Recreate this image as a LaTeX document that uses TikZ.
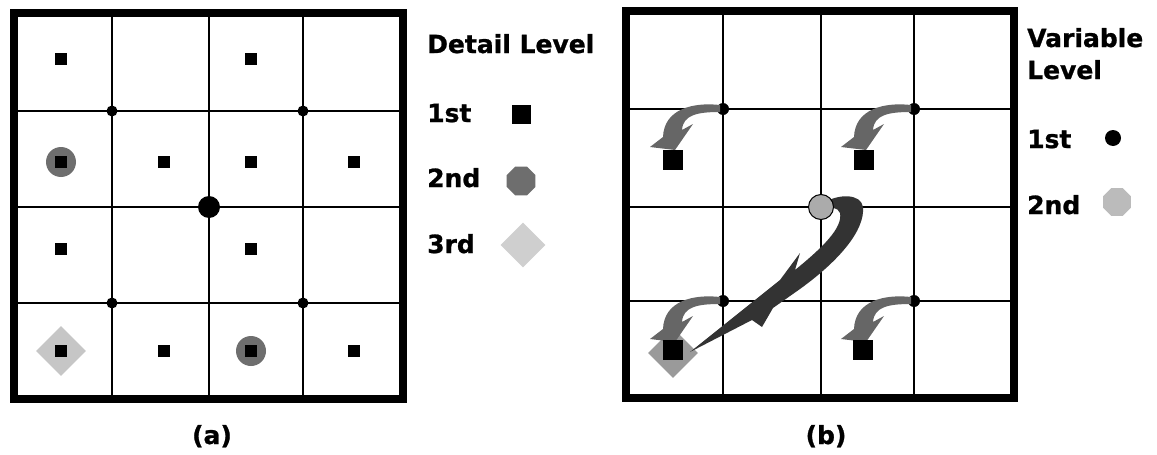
\documentclass[tikz,border=0pt]{standalone}
\usepackage{fontspec}
\setmainfont{DejaVu Sans}[BoldFeatures={FakeBold=1}]
\usetikzlibrary{shapes.geometric}
\definecolor{lvltwo}{HTML}{6E6E6E}
\definecolor{lvlthree}{HTML}{C6C6C6}
\definecolor{diamb}{HTML}{9A9A9A}
\definecolor{vartwo}{HTML}{ABABAB}
\definecolor{vartwoleg}{HTML}{BBBBBB}
\definecolor{arrowgray}{HTML}{666666}
\definecolor{bigarrow}{HTML}{333333}
\tikzset{
  framebox/.style={line width=8pt},
  thinline/.style={line width=1.6pt},
  midline/.style={line width=2.6pt},
  sqmark/.style={rectangle, fill=black, inner sep=0pt, minimum size=#1},
  dotmark/.style={circle, fill=black, inner sep=0pt, minimum size=#1},
  circmark/.style={circle, fill=lvltwo, inner sep=0pt, minimum size=30pt},
  diamark/.style={diamond, inner sep=0pt, minimum size=#1},
  octmark/.style={regular polygon, regular polygon sides=8, inner sep=0pt, minimum size=#1},
  lbl/.style={font=\bfseries\fontsize{25}{30}\selectfont, anchor=base west, inner sep=0pt},
  caplbl/.style={font=\bfseries\fontsize{25}{30}\selectfont, anchor=base, inner sep=0pt},
  smallarrow/.pic={
    \fill[arrowgray] (-3,-4) .. controls (-30,-7) and (-59,0) .. (-60,28)
      -- (-73,38) -- (-48,41) -- (-30,15) -- (-41,21)
      .. controls (-40,6) and (-26,3) .. (-3,3) -- cycle;
  }
}
\begin{document}
\begin{tikzpicture}[x=1pt,y=-1pt]
\useasboundingbox[fill=white] (0,0) rectangle (1157,455);

% ---------- panel (a) ----------
\draw[thinline] (112,13) -- (112,399) (303,13) -- (303,399)
                (14,111) -- (403,111) (14,303) -- (403,303);
\draw[midline] (209,13) -- (209,399) (14,207) -- (403,207);
\draw[framebox] (14,13) rectangle (403,399);

\node[diamark=50pt, fill=lvlthree] (a3) at (61,351) {};
\node[circmark] (a2a) at (61,162) {};
\node[circmark] (a2b) at (251,351) {};

\node[sqmark=12pt] (s11) at (61,59) {};
\node[sqmark=12pt] (s13) at (251,59) {};
\node[sqmark=12pt] (s21) at (61,162) {};
\node[sqmark=12pt] (s22) at (164,162) {};
\node[sqmark=12pt] (s23) at (251,162) {};
\node[sqmark=12pt] (s24) at (354,162) {};
\node[sqmark=12pt] (s31) at (61,249) {};
\node[sqmark=12pt] (s33) at (251,249) {};
\node[sqmark=12pt] (s41) at (61,351) {};
\node[sqmark=12pt] (s42) at (164,351) {};
\node[sqmark=12pt] (s43) at (251,351) {};
\node[sqmark=12pt] (s44) at (354,351) {};

\node[dotmark=11pt] (v1) at (112,111) {};
\node[dotmark=11pt] (v2) at (303,111) {};
\node[dotmark=11pt] (v3) at (112,303) {};
\node[dotmark=11pt] (v4) at (303,303) {};
\node[dotmark=22pt] (vc) at (209,207) {};

% legend (a)
\node[lbl] (ta) at (427,53) {Detail Level};
\node[lbl] (ta1) at (427,122) {1st};
\node[sqmark=19pt] (la1) at (521,114) {};
\node[lbl] (ta2) at (427,187) {2nd};
\node[octmark=31pt, fill=lvltwo] (la2) at (521,181) {};
\node[lbl] (ta3) at (427,253) {3rd};
\node[diamark=45pt, fill=lvlthree!85!white] (la3) at (523,245) {};

\node[caplbl] (capa) at (212,444) {(a)};

% ---------- panel (b) ----------
\draw[thinline] (723,11) -- (723,397.5) (914,11) -- (914,397.5)
                (625.5,109) -- (1014,109) (625.5,301) -- (1014,301);
\draw[midline] (821,11) -- (821,397.5) (625.5,207) -- (1014,207);
\draw[framebox] (625.5,11) rectangle (1014,397.5);

\node[diamark=50pt, fill=diamb] (b3) at (673,353) {};

\node[dotmark=12pt] (w1) at (723,109) {};
\node[dotmark=12pt] (w2) at (914,109) {};
\node[dotmark=12pt] (w3) at (723,301) {};
\node[dotmark=12pt] (w4) at (914,301) {};

\pic at (w1) {smallarrow};
\pic at (w2) {smallarrow};
\pic at (w3) {smallarrow};
\pic at (w4) {smallarrow};

% big arrow from the 2nd-level variable to the 3rd-level detail
\fill[bigarrow] (823,203) .. controls (840,193) and (861,194) .. (863,207)
  .. controls (865,230) and (840,260) .. (800,289)
  -- (773,308) -- (762,327) -- (752,320) -- (690,352)
  -- (740,312) -- (780,280) -- (800,253) -- (795,270)
  .. controls (822,248) and (843,228) .. (840,213)
  .. controls (838,207) and (830,207) .. (823,208) -- cycle;

\node[sqmark=20pt] (q1) at (673,160) {};
\node[sqmark=20pt] (q2) at (864,160) {};
\node[sqmark=20pt] (q3) at (673,350) {};
\node[sqmark=20pt] (q4) at (863,350) {};

\node[circle, fill=vartwo, draw=black, line width=1pt, inner sep=0pt, minimum size=25pt] (wc) at (821,207) {};

% legend (b)
\node[lbl] (tb) at (1027,47) {Variable};
\node[lbl] (tb0) at (1027,79) {Level};
\node[lbl] (tb1) at (1027,148) {1st};
\node[dotmark=16pt] (lb1) at (1113,138) {};
\node[lbl] (tb2) at (1027,214) {2nd};
\node[octmark=30pt, fill=vartwoleg] (lb2) at (1117,202) {};

\node[caplbl] (capb) at (826,444) {(b)};
\end{tikzpicture}
\end{document}
